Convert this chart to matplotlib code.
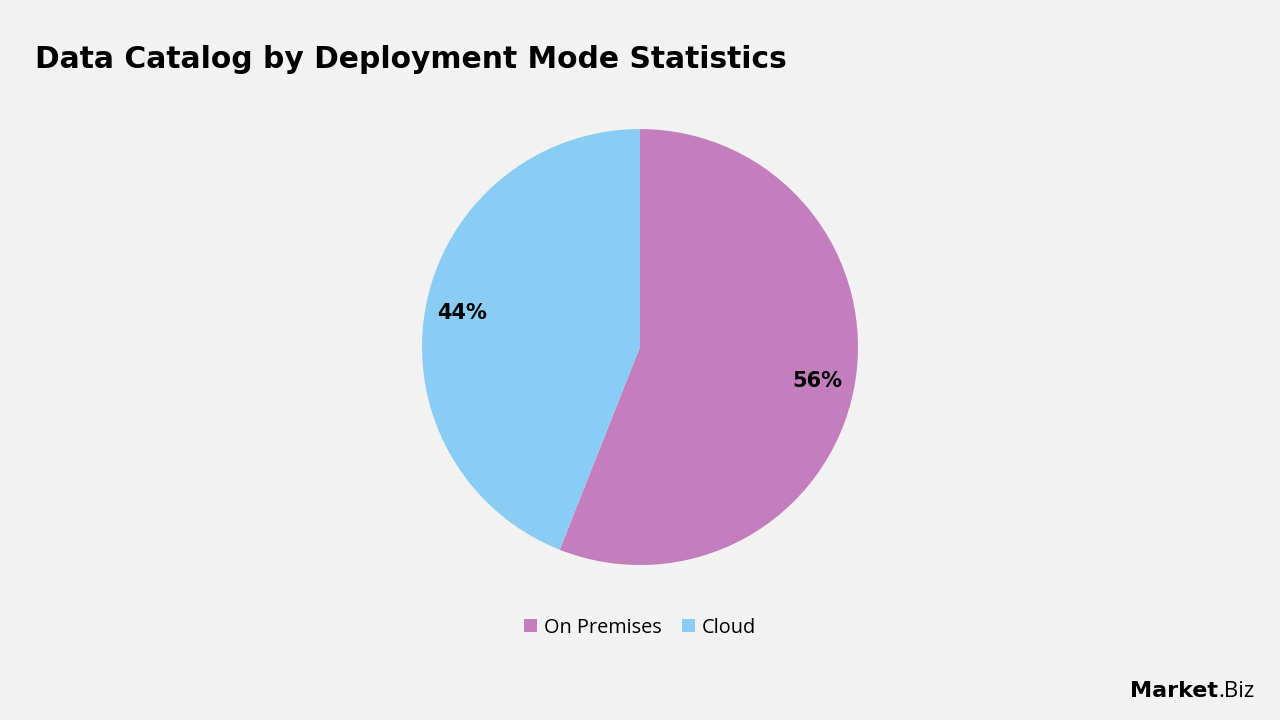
import matplotlib.pyplot as plt

labels = ['On Premises', 'Cloud']
shares = [56, 44]
colors = ['#C47EBE', '#89CDF4']

plt.rcParams['font.family'] = ['Open Sans', 'DejaVu Sans']

fig = plt.figure(figsize=(12.8, 7.2), dpi=100)
fig.patch.set_facecolor('#F2F2F2')

ax = fig.add_axes([0.5 - 218 / 1280, 0.518 - 218 / 720, 436 / 1280, 436 / 720])
ax.set_facecolor('#F2F2F2')
wedges, texts, autotexts = ax.pie(shares, colors=colors, startangle=90, counterclock=False,
                                  autopct='%1.0f%%', pctdistance=0.83,
                                  textprops={'fontsize': 15, 'fontweight': 'bold', 'color': 'black',
                                             'family': 'DejaVu Sans'})
ax.set_xlim(-1, 1)
ax.set_ylim(-1, 1)
ax.set_aspect('equal')

fig.text(0.027, 0.918, 'Data Catalog by Deployment Mode Statistics', fontsize=21.4,
         fontweight='bold', ha='left', va='center', family='DejaVu Sans')

fig.legend(wedges, labels, loc='center', bbox_to_anchor=(0.5, 0.128), ncol=2, frameon=False,
           fontsize=14.3, handlelength=0.65, handleheight=0.65, handletextpad=0.35, columnspacing=1.0)

logo = fig.text(0.883, 0.04, 'Market', fontsize=16, fontweight='bold', ha='left', va='center',
                family='DejaVu Sans')
ax.annotate('.Biz', xy=(1, 0.5), xycoords=logo, fontsize=16, ha='left', va='center',
            annotation_clip=False)

fig.savefig('out.png', dpi=100, facecolor=fig.get_facecolor())
